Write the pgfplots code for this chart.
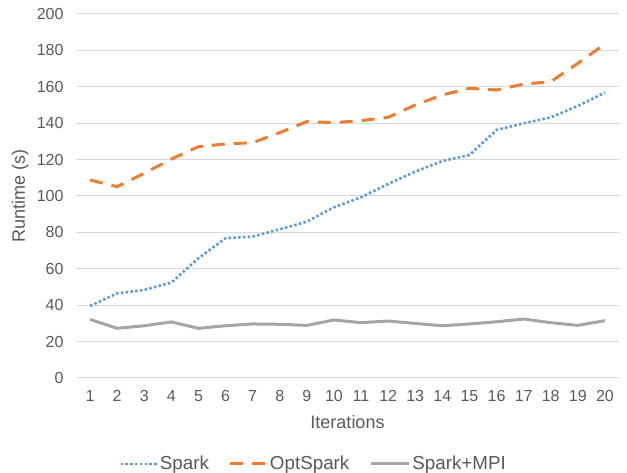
\documentclass[border=0pt]{standalone}
\usepackage{fontspec}
\setmainfont{Liberation Sans}
\usepackage{pgfplots}
\pgfplotsset{compat=1.18}
\definecolor{sparkblue}{HTML}{5B9BD5}
\definecolor{optorange}{HTML}{ED7D31}
\definecolor{mpigray}{HTML}{A5A5A5}
\definecolor{gridgray}{HTML}{D9D9D9}
\definecolor{txt}{HTML}{595959}
\pgfplotsset{longlegend/.style={legend image code/.code={\draw[##1] (0pt,0pt) -- (38pt,0pt);}}}
\begin{document}
\begin{tikzpicture}
\begin{axis}[
  name=ax,
  at={(0,0)}, anchor=south west,
  scale only axis,
  width=542pt, height=364pt,
  xmin=0.5, xmax=20.5,
  ymin=0, ymax=200,
  xtick={1,...,20},
  ytick={0,20,...,200},
  ymajorgrids,
  grid style={gridgray, line width=1pt},
  axis line style={draw=none},
  major tick length=0pt,
  font=\fontsize{16}{19}\selectfont\color{txt},
  /pgf/number format/assume math mode=true,
  yticklabel style={xshift=-9.5pt},
  xticklabel style={yshift=-8.5pt},
  xlabel={Iterations},
  ylabel={Runtime (s)},
  xlabel style={at={(axis description cs:0.5,-0.121)}, anchor=center, font=\fontsize{18}{21}\selectfont\color{txt}},
  ylabel style={at={(axis description cs:-0.104,0.5)}, anchor=center, font=\fontsize{18}{21}\selectfont\color{txt}},
  legend style={at={(axis description cs:0.073,-0.236)}, anchor=west, draw=none, fill=none,
    font=\fontsize{18.8}{21}\selectfont\color{txt},
    /tikz/every even column/.append style={column sep=18pt}},
  legend columns=3,
  legend image code/.code={\draw[#1] (0pt,0pt) -- (35pt,0pt); \path (0pt,0pt) -- (36pt,0pt);},
]
\addplot[sparkblue, line width=2.6pt, dash pattern=on 2.5pt off 2.3pt] coordinates {
(1,39.6) (2,46.5) (3,48.4) (4,52.4) (5,65.8) (6,76.8) (7,77.7) (8,81.7) (9,85.9) (10,93.8)
(11,99.3) (12,106.6) (13,113.4) (14,119.2) (15,122.5) (16,136.3) (17,139.9) (18,143.2) (19,149.5) (20,156.8)};
\addlegendentry{Spark}
\addplot[optorange, line width=3pt, dash pattern=on 13pt off 9pt] coordinates {
(1,108.8) (2,105.1) (3,112.5) (4,120.3) (5,127.1) (6,128.6) (7,129.3) (8,134.8) (9,140.9) (10,140.3)
(11,141.4) (12,143.2) (13,150.0) (14,155.5) (15,159.2) (16,158.2) (17,161.5) (18,162.8) (19,172.9) (20,183.5)};
\addlegendentry{OptSpark}
\addplot[mpigray, line width=3pt, longlegend] coordinates {
(1,32.2) (2,27.3) (3,28.7) (4,30.8) (5,27.3) (6,28.7) (7,29.7) (8,29.5) (9,28.9) (10,31.9)
(11,30.4) (12,31.3) (13,30.0) (14,28.7) (15,29.7) (16,30.9) (17,32.4) (18,30.4) (19,28.9) (20,31.5)};
\addlegendentry{Spark+MPI}
\end{axis}
\pgfresetboundingbox
\path[use as bounding box] (-76.5pt,-95pt) rectangle (550.5pt,378pt);
\end{tikzpicture}
\end{document}
